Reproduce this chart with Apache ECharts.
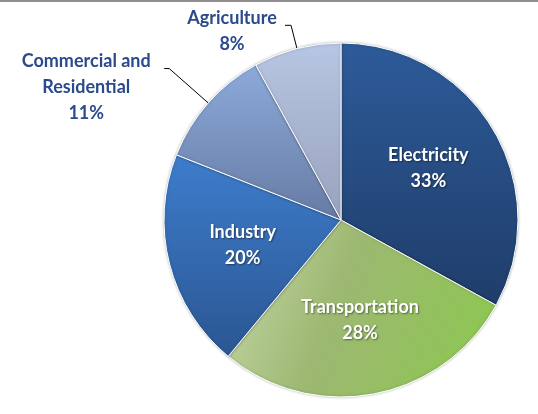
<!DOCTYPE html>
<html>
<head>
<meta charset="utf-8">
<script src="https://cdn.jsdelivr.net/npm/echarts@6/dist/echarts.min.js"></script>
<style>
    html, body { margin: 0; padding: 0; background: #fff; }
    #chart { width: 538px; height: 414px; }
    .top-rule { position: absolute; left: 0; top: 0; width: 538px; height: 2px; background: #8f8f8f; }
</style>
</head>
<body>
<div id="chart"></div>
<div class="top-rule"></div>
<script>
// 数据
const categories = ['Electricity', 'Transportation', 'Industry', 'Commercial and Residential', 'Agriculture'];
const shares = [33, 28, 20, 11, 8];
const labelText = ['Electricity', 'Transportation', 'Industry', 'Commercial and\nResidential', 'Agriculture'];

// 渐变色 (top/start, end)
const grad = (c1, c2, x2, y2) => new echarts.graphic.LinearGradient(0, 0, x2, y2, [
    { offset: 0, color: c1 },
    { offset: 1, color: c2 }
]);
const sliceColors = [
    grad('#2d5b99', '#1f3d6a', 0, 1),
    new echarts.graphic.LinearGradient(0, 0, 1, 0.55, [
        { offset: 0, color: '#c6d8a9' },
        { offset: 0.45, color: '#9db872' },
        { offset: 1, color: '#8ec653' }
    ]),
    grad('#3d7dcc', '#2b5692', 0, 1),
    grad('#8caada', '#667ba4', 0, 1),
    grad('#b7c6e3', '#98a2bd', 0, 1)
];

const outerColor = '#2b4a8c';
const font = 'Lato, "Open Sans", sans-serif';

// 外部标签设置
const outerLabel = {
    3: { len: 52, len2: 5, width: 146, padTop: 38 },
    4: { len: 24, len2: 6, width: 96, padTop: 12 }
};

const sliceData = shares.map((v, i) => {
    let item = {
        value: v,
        name: categories[i],
        itemStyle: { color: sliceColors[i] }
    };
    if (outerLabel[i]) {
        let o = outerLabel[i];
        item.label = {
            show: true,
            position: 'outside',
            padding: [o.padTop, 0, 0, 0],
            formatter: p => labelText[p.dataIndex].split('\n').map(s => '{t|' + s + '}').join('\n') + '\n{t|' + p.value + '%}',
            rich: {
                t: {
                    width: o.width,
                    align: 'center',
                    fontFamily: font,
                    fontWeight: 'bold',
                    fontSize: 18,
                    lineHeight: 26,
                    color: outerColor
                }
            }
        };
        item.labelLine = { show: true, length: o.len, length2: o.len2 };
    }
    return item;
});

const innerData = shares.map((v, i) => ({
    value: v,
    name: categories[i],
    label: { show: i < 3 }
}));

let myChart = echarts.init(document.getElementById('chart'), null, { renderer: 'canvas' });
let option = {
    animation: false,
    series: [{
        type: 'pie',
        center: [341, 220],
        radius: [0, 177],
        startAngle: 90,
        clockwise: true,
        avoidLabelOverlap: false,
        silent: true,
        itemStyle: {
            borderColor: '#ffffff',
            borderWidth: 1,
            shadowBlur: 3,
            shadowColor: 'rgba(0,0,0,0.25)'
        },
        label: { show: false },
        labelLine: {
            show: false,
            lineStyle: { color: '#000000', width: 1 }
        },
        data: sliceData
    }, {
        type: 'pie',
        center: [341, 220],
        radius: [20, 177],
        startAngle: 90,
        clockwise: true,
        silent: true,
        itemStyle: { color: 'transparent' },
        label: {
            position: 'inside',
            padding: [6, 0, 0, 0],
            formatter: p => labelText[p.dataIndex] + '\n' + p.value + '%',
            fontFamily: font,
            fontWeight: 'bold',
            fontSize: 18,
            lineHeight: 26,
            color: '#ffffff',
            textShadowColor: 'rgba(0,0,0,0.45)',
            textShadowBlur: 2,
            textShadowOffsetX: 1,
            textShadowOffsetY: 1
        },
        labelLine: { show: false },
        data: innerData
    }]
};
myChart.setOption(option);
</script>
</body>
</html>
